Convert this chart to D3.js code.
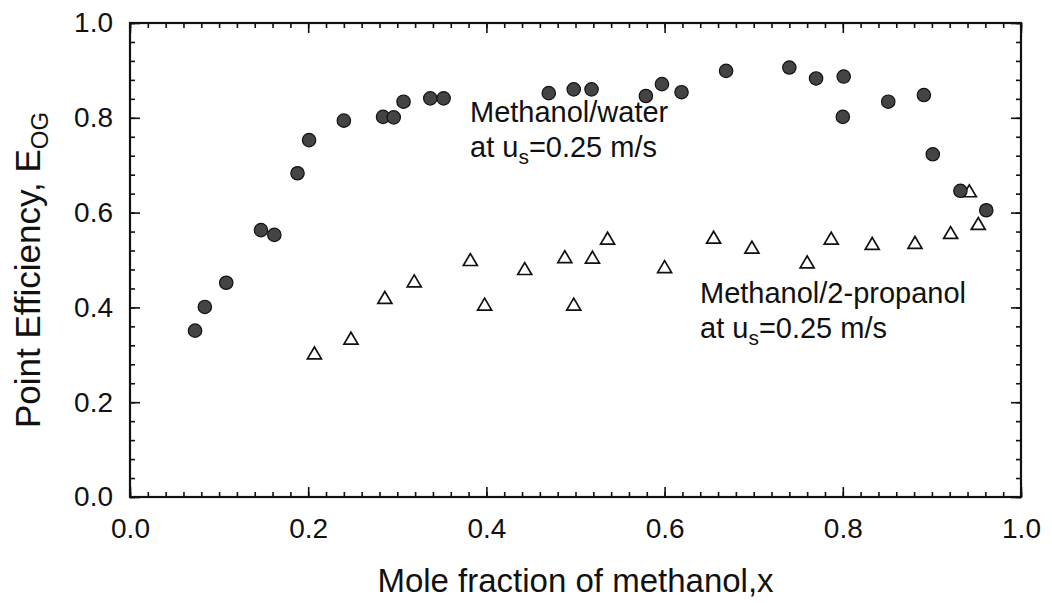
<!DOCTYPE html>
<html>
<head>
<meta charset="utf-8">
<script src="https://cdn.jsdelivr.net/npm/d3@7"></script>
<style>
  html, body { margin: 0; padding: 0; background: #fff; }
  svg { display: block; font-family: "Liberation Sans", Arial, Helvetica, sans-serif; }
</style>
</head>
<body>
<div id="chart"></div>
<script>
// methanol/water, us = 0.25 m/s (filled circles)
const waterX = [0.073, 0.084, 0.108, 0.147, 0.162, 0.188, 0.201, 0.240, 0.284, 0.296,
  0.307, 0.337, 0.352, 0.470, 0.498, 0.518, 0.579, 0.597, 0.619, 0.669,
  0.740, 0.770, 0.801, 0.800, 0.851, 0.891, 0.901, 0.932, 0.961]
const waterE = [0.351, 0.401, 0.452, 0.563, 0.553, 0.683, 0.753, 0.794, 0.802, 0.801,
  0.834, 0.841, 0.841, 0.852, 0.860, 0.860, 0.846, 0.871, 0.854, 0.899,
  0.906, 0.883, 0.887, 0.802, 0.834, 0.848, 0.723, 0.646, 0.605]

// methanol/2-propanol, us = 0.25 m/s (open triangles)
const propX = [0.207, 0.248, 0.286, 0.319, 0.382, 0.398, 0.443, 0.488, 0.498, 0.519,
  0.536, 0.600, 0.655, 0.698, 0.760, 0.787, 0.833, 0.881, 0.921, 0.942, 0.952]
const propE = [0.304, 0.335, 0.421, 0.456, 0.501, 0.407, 0.482, 0.507, 0.407, 0.506,
  0.546, 0.486, 0.548, 0.527, 0.496, 0.546, 0.535, 0.537, 0.558, 0.646, 0.577]

const majorTicks = [0, 0.2, 0.4, 0.6, 0.8, 1.0]
const xMinor = d3.range(0, 1.0001, 0.02)
const yMinor = d3.range(0, 1.0001, 0.04)

const width = 1052
const height = 603
const margin = { top: 23, right: 31, bottom: 106, left: 130 }
const w = width - margin.left - margin.right
const h = height - margin.top - margin.bottom

const svg = d3.select('#chart').append('svg')
  .attr('width', width)
  .attr('height', height)

const g = svg.append('g').attr('transform', `translate(${margin.left},${margin.top})`)

const x = d3.scaleLinear().domain([0, 1]).range([0, w])
const y = d3.scaleLinear().domain([0, 1]).range([h, 0])

const fmt = d3.format('.1f')
const ink = '#111'

function styleAxis (sel) {
  sel.select('.domain').remove()
  sel.selectAll('line').attr('stroke', ink).attr('stroke-width', 1.6)
  sel.selectAll('text').attr('fill', ink).attr('font-size', 28)
    .attr('font-family', '"Liberation Sans", Arial, Helvetica, sans-serif')
}

// minor ticks on all four sides
g.append('g').attr('transform', `translate(0,${h})`)
  .call(d3.axisBottom(x).tickValues(xMinor).tickSize(-5).tickFormat(''))
  .call(styleAxis)
g.append('g')
  .call(d3.axisTop(x).tickValues(xMinor).tickSize(-5).tickFormat(''))
  .call(styleAxis)
g.append('g')
  .call(d3.axisLeft(y).tickValues(yMinor).tickSize(-5).tickFormat(''))
  .call(styleAxis)
g.append('g').attr('transform', `translate(${w},0)`)
  .call(d3.axisRight(y).tickValues(yMinor).tickSize(-5).tickFormat(''))
  .call(styleAxis)

// major ticks with labels
g.append('g').attr('transform', `translate(0,${h})`)
  .call(d3.axisBottom(x).tickValues(majorTicks).tickSize(-10).tickPadding(21).tickFormat(fmt))
  .call(styleAxis)
g.append('g')
  .call(d3.axisLeft(y).tickValues(majorTicks).tickSize(-10).tickPadding(17).tickFormat(fmt))
  .call(styleAxis)
g.append('g')
  .call(d3.axisTop(x).tickValues(majorTicks).tickSize(-10).tickFormat(''))
  .call(styleAxis)
g.append('g').attr('transform', `translate(${w},0)`)
  .call(d3.axisRight(y).tickValues(majorTicks).tickSize(-10).tickFormat(''))
  .call(styleAxis)

// frame
g.append('rect')
  .attr('width', w)
  .attr('height', h)
  .attr('fill', 'none')
  .attr('stroke', ink)
  .attr('stroke-width', 2.2)

// open triangles
const tri = 7
g.append('g').selectAll('path')
  .data(propX.map((v, i) => [v, propE[i]]))
  .enter().append('path')
  .attr('d', d => {
    const cx = x(d[0])
    const cy = y(d[1])
    return `M${cx},${cy - tri * 0.85}L${cx + tri},${cy + tri * 0.85}L${cx - tri},${cy + tri * 0.85}Z`
  })
  .attr('fill', '#fff')
  .attr('stroke', ink)
  .attr('stroke-width', 1.7)
  .attr('stroke-linejoin', 'miter')

// filled circles
g.append('g').selectAll('circle')
  .data(waterX.map((v, i) => [v, waterE[i]]))
  .enter().append('circle')
  .attr('cx', d => x(d[0]))
  .attr('cy', d => y(d[1]))
  .attr('r', 6.7)
  .attr('fill', '#444')
  .attr('stroke', '#111')
  .attr('stroke-width', 1.2)

// series annotations
function note (tx, ty, name) {
  svg.append('text')
    .attr('x', tx)
    .attr('y', ty)
    .attr('font-size', 29)
    .attr('fill', ink)
    .text(name)
  const t2 = svg.append('text')
    .attr('x', tx)
    .attr('y', ty + 35)
    .attr('font-size', 29)
    .attr('fill', ink)
  t2.append('tspan').text('at u')
  t2.append('tspan').attr('font-size', 21).attr('dy', 7).text('s')
  t2.append('tspan').attr('dy', -7).text('=0.25 m/s')
}
note(470, 122, 'Methanol/water')
note(700, 303, 'Methanol/2-propanol')

// axis titles
svg.append('text')
  .attr('x', margin.left + w / 2)
  .attr('y', 592)
  .attr('text-anchor', 'middle')
  .attr('font-size', 33)
  .attr('fill', ink)
  .text('Mole fraction of methanol,x')

const yt = svg.append('text')
  .attr('transform', `translate(40,${margin.top + h / 2 + 10}) rotate(-90)`)
  .attr('text-anchor', 'middle')
  .attr('font-size', 35)
  .attr('fill', ink)
yt.append('tspan').text('Point Efficiency, E')
yt.append('tspan').attr('font-size', 24).attr('dy', 8).text('OG')
</script>
</body>
</html>
